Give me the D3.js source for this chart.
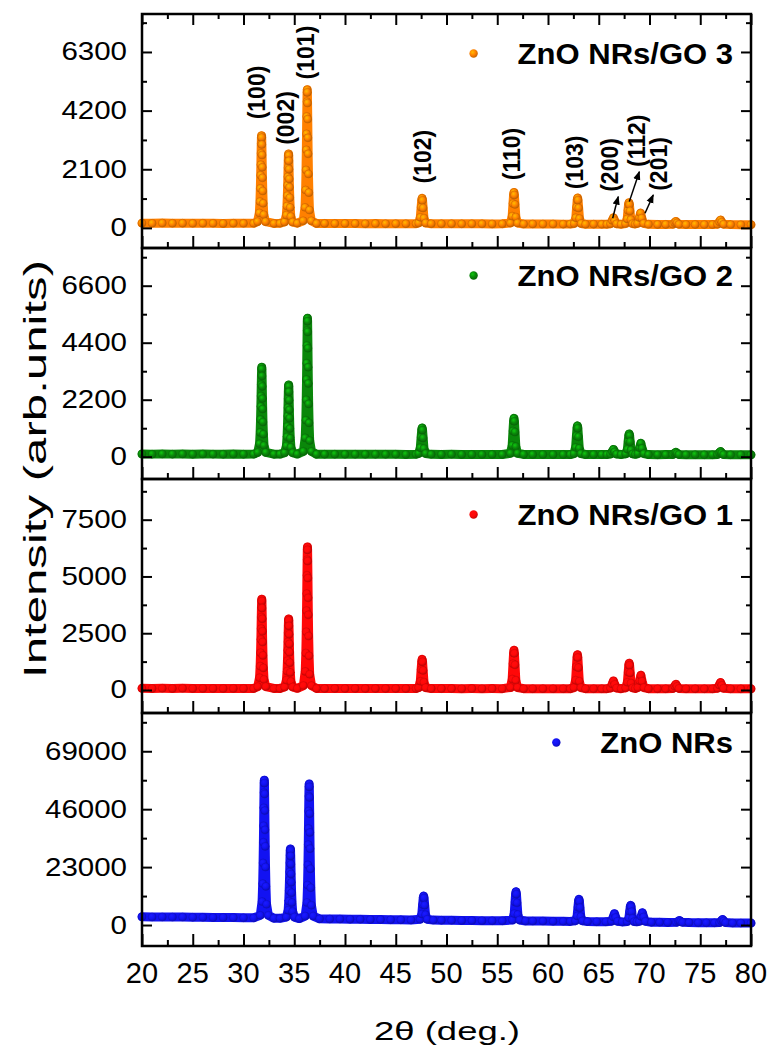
<!DOCTYPE html>
<html>
<head>
<meta charset="utf-8">
<script src="https://cdn.jsdelivr.net/npm/d3@7"></script>
<style>
  body { margin: 0; background: #fff; }
  svg text { font-family: "Liberation Sans", Arial, sans-serif; fill: #000; }
</style>
</head>
<body>
<svg id="chart" width="773" height="1052"></svg>
<script>
// sample names / colours, top panel first
const sampleNames = ['ZnO NRs/GO 3', 'ZnO NRs/GO 2', 'ZnO NRs/GO 1', 'ZnO NRs'];
const sampleColors = ['#ff8000', '#0a870a', '#ff0808', '#1212f2'];

// y axis of each panel: label step and visible range
const yTickSteps = [2100, 2200, 2500, 23000];
const yDomains = [[-720, 7660], [-860, 8055], [-1013, 9292], [-8330, 84190]];
const xTicks = [20, 25, 30, 35, 40, 45, 50, 55, 60, 65, 70, 75, 80];

// [2theta, counts]
const go3 = [
  [20,170],[21,165],[22,172],[23,165],[24,168],[25,162],[26,168],[27,165],[28,160],[29,166],[30,162],[31,165],
  // (100)
  [31.38,223],[31.56,537],[31.62,945],[31.66,1416],[31.69,1887],[31.71,2264],[31.73,2672],[31.75,3017],[31.765,3237],[31.78,3300],
  [31.795,3237],[31.81,2986],[31.83,2609],[31.85,2170],[31.87,1793],[31.90,1322],[31.94,882],[32.00,474],[32.18,223],
  [33.0,160],[33.6,165],
  // (002)
  [34.04,210],[34.22,459],[34.28,783],[34.32,1156],[34.35,1530],[34.37,1828],[34.39,2152],[34.41,2426],[34.425,2600],[34.44,2650],
  [34.455,2600],[34.47,2401],[34.49,2102],[34.51,1754],[34.53,1455],[34.56,1081],[34.60,733],[34.66,409],[34.84,210],
  [35.3,168],
  // (101)
  [35.88,256],[36.06,735],[36.12,1358],[36.16,2076],[36.19,2795],[36.21,3369],[36.23,3992],[36.25,4519],[36.265,4854],[36.28,4950],
  [36.295,4854],[36.31,4471],[36.33,3896],[36.35,3226],[36.37,2651],[36.40,1932],[36.44,1262],[36.50,639],[36.68,256],
  [37.2,158],[38,160],[39,155],[40,158],[41,155],[42,150],[43,155],[44,150],[45,152],[46,150],[47,152],
  // (102)
  [47.25,177],[47.42,378],[47.50,742],[47.56,996],[47.60,1060],[47.64,987],[47.70,714],[47.78,350],[47.95,177],
  [48.5,150],[49.5,148],[50.5,150],[51.5,145],[52.5,148],[53.5,145],[54.5,142],[55.5,145],
  // (110)
  [56.30,174],[56.47,423],[56.55,875],[56.61,1191],[56.65,1270],[56.69,1180],[56.75,841],[56.83,389],[57.00,174],
  [57.6,140],[58.5,142],[59.5,138],[60.5,140],[61.5,135],[62.2,138],
  // (103)
  [62.57,158],[62.74,365],[62.82,741],[62.88,1004],[62.92,1070],[62.96,995],[63.02,713],[63.10,337],[63.27,158],
  [63.7,132],[64.5,135],[65.3,130],[65.8,132],
  // (200)
  [66.15,148],[66.33,268],[66.45,360],[66.57,257],[66.75,148],
  [67.2,130],
  // (112)
  [67.63,153],[67.80,323],[67.88,631],[67.94,846],[67.98,900],[68.02,838],[68.08,607],[68.16,299],[68.33,153],
  [68.58,140],
  // (201)
  [68.82,162],[69.00,370],[69.12,530],[69.24,350],[69.42,162],
  [69.9,128],[70.8,125],[71.6,125],
  [72.3,129],[72.48,186],[72.6,230],[72.72,181],[72.9,129],
  [73.6,120],[74.5,122],[75.4,118],[76.2,120],
  [76.7,133],[76.88,216],[77.0,280],[77.12,208],[77.3,133],
  [78,118],[79,115],[80,115]
];

const go2 = [
  [20,105],[21,100],[22,106],[23,100],[24,104],[25,98],[26,103],[27,100],[28,97],[29,102],[30,98],[31,100],
  [31.40,167],[31.58,502],[31.64,938],[31.68,1440],[31.71,1943],[31.73,2345],[31.75,2780],[31.77,3149],[31.785,3383],[31.80,3450],
  [31.815,3383],[31.83,3115],[31.85,2713],[31.87,2244],[31.89,1842],[31.92,1340],[31.96,871],[32.02,435],[32.20,167],
  [33.0,98],[33.6,100],
  [34.05,153],[34.23,420],[34.29,768],[34.33,1168],[34.36,1569],[34.38,1889],[34.40,2236],[34.42,2530],[34.435,2717],[34.45,2770],
  [34.465,2717],[34.48,2503],[34.50,2183],[34.52,1809],[34.54,1488],[34.57,1088],[34.61,714],[34.67,367],[34.85,153],
  [35.3,102],
  [35.90,205],[36.08,729],[36.14,1410],[36.18,2196],[36.21,2982],[36.23,3611],[36.25,4292],[36.27,4868],[36.285,5235],[36.30,5340],
  [36.315,5235],[36.33,4816],[36.35,4187],[36.37,3454],[36.39,2825],[36.42,2039],[36.46,1305],[36.52,624],[36.70,205],
  [37.2,97],[38,95],[39,98],[40,94],[41,96],[42,92],[43,95],[44,92],[45,94],[46,90],[47,93],
  [47.25,125],[47.42,349],[47.50,755],[47.56,1039],[47.60,1110],[47.64,1029],[47.70,724],[47.78,318],[47.95,125],
  [48.5,92],[49.5,90],[50.5,92],[51.5,88],[52.5,90],[53.5,87],[54.5,90],[55.5,88],
  [56.30,132],[56.47,438],[56.55,994],[56.61,1383],[56.65,1480],[56.69,1369],[56.75,952],[56.83,396],[57.00,132],
  [57.6,88],[58.5,86],[59.5,88],[60.5,85],[61.5,86],[62.2,84],
  [62.55,118],[62.72,361],[62.80,803],[62.86,1113],[62.90,1190],[62.94,1102],[63.00,770],[63.08,328],[63.25,118],
  [63.7,84],[64.5,85],[65.3,82],[65.8,84],
  [66.15,101],[66.33,202],[66.45,280],[66.57,192],[66.75,101],
  [67.2,84],
  [67.65,109],[67.82,284],[67.90,602],[67.96,824],[68.00,880],[68.04,816],[68.10,578],[68.18,260],[68.35,109],
  [68.6,92],
  [68.85,120],[69.03,346],[69.15,520],[69.27,324],[69.45,120],
  [69.9,82],[70.8,80],[71.6,81],
  [72.3,87],[72.48,134],[72.6,170],[72.72,130],[72.9,87],
  [73.6,78],[74.5,80],[75.4,77],[76.2,78],
  [76.7,85],[76.88,150],[77.0,200],[77.12,144],[77.3,85],
  [78,76],[79,75],[80,74]
];

const go1 = [
  [20,72],[21,70],[22,74],[23,69],[24,72],[25,68],[26,71],[27,70],[28,67],[29,70],[30,68],[31,70],
  [31.40,149],[31.58,542],[31.64,1053],[31.68,1642],[31.71,2232],[31.73,2703],[31.75,3214],[31.77,3646],[31.785,3921],[31.80,4000],
  [31.815,3921],[31.83,3607],[31.85,3135],[31.87,2585],[31.89,2114],[31.92,1524],[31.96,974],[32.02,463],[32.20,149],
  [33.0,68],[33.6,70],
  [34.05,131],[34.23,437],[34.29,835],[34.33,1294],[34.36,1753],[34.38,2120],[34.40,2518],[34.42,2855],[34.435,3069],[34.45,3130],
  [34.465,3069],[34.48,2824],[34.50,2457],[34.52,2028],[34.54,1661],[34.57,1202],[34.61,774],[34.67,376],[34.85,131],
  [35.3,72],
  [35.90,195],[36.08,818],[36.14,1628],[36.18,2562],[36.21,3497],[36.23,4244],[36.25,5054],[36.27,5739],[36.285,6175],[36.30,6300],
  [36.315,6175],[36.33,5677],[36.35,4929],[36.37,4057],[36.39,3310],[36.42,2375],[36.46,1503],[36.52,693],[36.70,195],
  [37.2,68],[38,66],[39,68],[40,65],[41,67],[42,64],[43,66],[44,63],[45,65],[46,62],[47,64],
  [47.25,104],[47.42,386],[47.50,900],[47.56,1260],[47.60,1350],[47.64,1247],[47.70,862],[47.78,348],[47.95,104],
  [48.5,63],[49.5,61],[50.5,63],[51.5,60],[52.5,62],[53.5,59],[54.5,61],[55.5,60],
  [56.30,111],[56.47,483],[56.55,1159],[56.61,1632],[56.65,1750],[56.69,1615],[56.75,1108],[56.83,432],[57.00,111],
  [57.6,60],[58.5,58],[59.5,60],[60.5,57],[61.5,59],[62.2,58],
  [62.55,105],[62.72,433],[62.80,1029],[62.86,1446],[62.90,1550],[62.94,1431],[63.00,984],[63.08,388],[63.25,105],
  [63.7,58],[64.5,59],[65.3,57],[65.8,58],
  [66.15,87],[66.33,264],[66.45,400],[66.57,247],[66.75,87],
  [67.2,58],
  [67.65,94],[67.82,340],[67.90,788],[67.96,1102],[68.00,1180],[68.04,1090],[68.10,754],[68.18,306],[68.35,94],
  [68.6,70],
  [68.85,107],[69.03,414],[69.15,650],[69.27,385],[69.45,107],
  [69.9,56],[70.8,55],[71.6,56],
  [72.3,71],[72.48,172],[72.6,250],[72.72,162],[72.9,71],
  [73.6,54],[74.5,55],[75.4,53],[76.2,54],
  [76.7,77],[76.88,220],[77.0,330],[77.12,206],[77.3,77],
  [78,52],[79,51],[80,50]
];

const znoNRs = [
  [20,3250],[21,3200],[22,3210],[23,3150],[24,3160],[25,3100],[26,3060],[27,3000],[28,3010],[29,2950],[30,2900],[31,2860],
  [31.65,3845],[31.83,9320],[31.89,16438],[31.93,24650],[31.96,32863],[31.98,39433],[32.00,46550],[32.02,52573],[32.035,56405],[32.05,57500],
  [32.065,56405],[32.08,52025],[32.10,45455],[32.12,37790],[32.14,31220],[32.17,23008],[32.21,15343],[32.27,8225],[32.45,3845],
  [33.0,2700],[33.6,2650],
  [34.22,3152],[34.40,5912],[34.46,9500],[34.50,13640],[34.53,17780],[34.55,21092],[34.57,24680],[34.59,27716],[34.605,29648],[34.62,30200],
  [34.635,29648],[34.65,27440],[34.67,24128],[34.69,20264],[34.71,16952],[34.74,12812],[34.78,8948],[34.84,5360],[35.02,3152],
  [35.5,2550],
  [36.07,3570],[36.25,8920],[36.31,15875],[36.35,23900],[36.38,31925],[36.40,38345],[36.42,45300],[36.44,51185],[36.455,54930],[36.47,56000],
  [36.485,54930],[36.50,50650],[36.52,44230],[36.54,36740],[36.56,30320],[36.59,22295],[36.63,14805],[36.69,7850],[36.87,3570],
  [37.5,2450],[38.5,2400],[39.5,2350],[40.5,2300],[41.5,2250],[42.5,2200],[43.5,2150],[44.5,2100],[45.5,2050],[46.5,2000],
  [47.40,2285],[47.57,4375],[47.65,8175],[47.71,10835],[47.75,11500],[47.79,10740],[47.85,7890],[47.93,4090],[48.10,2285],
  [48.7,1950],[49.5,1900],[50.5,1850],[51.5,1800],[52.5,1780],[53.5,1740],[54.5,1700],[55.5,1680],
  [56.50,1997],[56.67,4538],[56.75,9158],[56.81,12392],[56.85,13200],[56.89,12276],[56.95,8811],[57.03,4191],[57.20,1997],
  [57.8,1620],[58.5,1580],[59.5,1550],[60.5,1500],[61.5,1460],[62.2,1440],
  [62.70,1664],[62.87,3600],[62.95,7120],[63.01,9584],[63.05,10200],[63.09,9496],[63.15,6856],[63.23,3336],[63.40,1664],
  [63.9,1380],[64.8,1330],[65.7,1300],
  [66.25,1510],[66.43,3200],[66.55,4500],[66.67,3038],[66.85,1510],
  [67.3,1230],
  [67.80,1398],[67.97,2850],[68.05,5490],[68.11,7338],[68.15,7800],[68.19,7272],[68.25,5292],[68.33,2652],[68.50,1398],
  [68.75,1300],
  [69.00,1450],[69.18,3400],[69.30,4900],[69.42,3213],[69.60,1450],
  [70.2,1120],[71.0,1080],[71.8,1050],
  [72.65,1064],[72.83,1480],[72.95,1800],[73.07,1440],[73.25,1064],
  [73.9,980],[74.8,950],[75.6,920],[76.4,880],
  [76.90,958],[77.08,1660],[77.2,2200],[77.32,1593],[77.5,958],
  [78.2,820],[79,790],[80,760]
];

// Miller indices written over the top pattern
const planeLabels = ['(100)', '(002)', '(101)', '(102)', '(110)', '(103)', '(200)', '(112)', '(201)'];
const planeTheta = [31.30, 34.16, 36.16, 47.71, 56.42, 62.66, 66.11, 68.80, 70.97];
const planeCounts = [4848, 3935, 6279, 2551, 2647, 2343, 2254, 3123, 2290];
// arrows from the small peaks up to their labels
const arrowFrom = [[66.37, 347], [68.01, 941], [69.56, 524]];
const arrowTo = [[66.92, 1120], [69.0, 2014], [70.37, 1180]];

const series = [go3, go2, go1, znoNRs];

// layout
const panelEdges = [14, 248, 479, 713, 946];
const legendBaseline = [50, 38, 46, 40];
const svg = d3.select('#chart');
const x = d3.scaleLinear().domain([20, 80]).range([142, 751]);

const defs = svg.append('defs');
defs.append('marker')
  .attr('id', 'arrowhead')
  .attr('viewBox', '0 0 10 10')
  .attr('refX', 9).attr('refY', 5)
  .attr('markerWidth', 6).attr('markerHeight', 6)
  .attr('orient', 'auto')
  .append('path').attr('d', 'M0,1 L10,5 L0,9 Z').attr('fill', '#000');

// sphere-like symbol fill, like the Origin ball markers
sampleColors.forEach((c, i) => {
  const grad = defs.append('radialGradient')
    .attr('id', `ball${i}`)
    .attr('cx', '38%').attr('cy', '35%').attr('r', '65%');
  grad.append('stop').attr('offset', '0%').attr('stop-color', d3.color(c).brighter(1.1));
  grad.append('stop').attr('offset', '55%').attr('stop-color', c);
  grad.append('stop').attr('offset', '100%').attr('stop-color', d3.color(c).darker(0.7));
});

const xMajor = xTicks;
const xMinor = d3.range(22.5, 80, 5);

function drawTicks(g, axis, values, size) {
  g.call(axis.tickValues(values).tickSize(size).tickFormat(''))
    .call(a => a.select('.domain').remove())
    .call(a => a.selectAll('line').attr('stroke', '#000').attr('stroke-width', 2));
}

series.forEach((data, i) => {
  const top = panelEdges[i];
  const bottom = panelEdges[i + 1];
  const y = d3.scaleLinear().domain(yDomains[i]).range([bottom, top]);
  const color = sampleColors[i];
  const step = yTickSteps[i];
  const g = svg.append('g');

  // pattern: thick line for the dense scan + ball symbols on top
  const pts = d3.sort(data, d => d[0]);
  const line = d3.line().x(d => x(d[0])).y(d => y(d[1]));
  g.append('path')
    .attr('d', line(pts))
    .attr('fill', 'none')
    .attr('stroke', color)
    .attr('stroke-width', 9)
    .attr('stroke-linejoin', 'round')
    .attr('stroke-linecap', 'round');
  g.selectAll('circle.pt').data(pts).join('circle')
    .attr('class', 'pt')
    .attr('cx', d => x(d[0]))
    .attr('cy', d => y(d[1]))
    .attr('r', 4)
    .attr('fill', `url(#ball${i})`)
    .attr('stroke', d3.color(color).darker(1))
    .attr('stroke-opacity', 0.55)
    .attr('stroke-width', 0.7);

  // ticks, all pointing into the panel
  const yMajor = d3.range(0, yDomains[i][1], step);
  const yMinor = d3.range(step / 2, yDomains[i][1], step);
  drawTicks(g.append('g').attr('transform', 'translate(142,0)'), d3.axisLeft(y), yMajor, -10);
  drawTicks(g.append('g').attr('transform', 'translate(142,0)'), d3.axisLeft(y), yMinor, -5);
  drawTicks(g.append('g').attr('transform', 'translate(751,0)'), d3.axisRight(y), yMajor, -10);
  drawTicks(g.append('g').attr('transform', 'translate(751,0)'), d3.axisRight(y), yMinor, -5);
  drawTicks(g.append('g').attr('transform', `translate(0,${bottom})`), d3.axisBottom(x), xMajor, -12);
  drawTicks(g.append('g').attr('transform', `translate(0,${bottom})`), d3.axisBottom(x), xMinor, -6);
  if (i === 0) {
    drawTicks(g.append('g').attr('transform', `translate(0,${top})`), d3.axisTop(x), xMajor, -11);
    drawTicks(g.append('g').attr('transform', `translate(0,${top})`), d3.axisTop(x), xMinor, -5);
  }

  g.append('rect')
    .attr('x', 142).attr('y', top)
    .attr('width', 751 - 142).attr('height', bottom - top)
    .attr('fill', 'none').attr('stroke', '#000').attr('stroke-width', 2.5);

  // y tick labels
  g.selectAll('text.ylab').data(yMajor).join('text')
    .attr('class', 'ylab')
    .attr('transform', d => `translate(127,${y(d) + 8.5}) scale(1.18,1)`)
    .attr('text-anchor', 'end')
    .style('font-size', '25px')
    .text(d => d);

  // legend
  const leg = g.append('text')
    .attr('transform', `translate(733,${top + legendBaseline[i]}) scale(1.07,1)`)
    .attr('text-anchor', 'end')
    .style('font-size', '29px')
    .style('font-weight', 'bold')
    .text(sampleNames[i]);
  const w = leg.node().getComputedTextLength() * 1.07;
  g.append('circle')
    .attr('cx', 733 - w - 44)
    .attr('cy', top + legendBaseline[i] - 10.5)
    .attr('r', 4.2)
    .attr('fill', `url(#ball${i})`);

  if (i === 0) {
    g.selectAll('text.plane').data(planeLabels).join('text')
      .attr('class', 'plane')
      .attr('transform', (d, k) => `translate(${x(planeTheta[k])},${y(planeCounts[k])}) rotate(-90)`)
      .attr('text-anchor', 'middle')
      .attr('dominant-baseline', 'central')
      .style('font-size', '23px')
      .style('font-weight', 'bold')
      .text(d => d);
    g.selectAll('line.arrow').data(arrowFrom).join('line')
      .attr('class', 'arrow')
      .attr('x1', d => x(d[0])).attr('y1', d => y(d[1]))
      .attr('x2', (d, k) => x(arrowTo[k][0])).attr('y2', (d, k) => y(arrowTo[k][1]))
      .attr('stroke', '#000').attr('stroke-width', 1.5)
      .attr('marker-end', 'url(#arrowhead)');
  }
});

// x tick labels under the last panel
svg.selectAll('text.xlab').data(xTicks).join('text')
  .attr('class', 'xlab')
  .attr('x', d => x(d))
  .attr('y', 983)
  .attr('text-anchor', 'middle')
  .style('font-size', '29px')
  .text(d => d);

svg.append('text')
  .attr('x', 447).attr('y', 1040)
  .attr('text-anchor', 'middle')
  .attr('textLength', 146)
  .attr('lengthAdjust', 'spacingAndGlyphs')
  .style('font-size', '26px')
  .text('2θ (deg.)');

svg.append('text')
  .attr('transform', 'translate(46,469) rotate(-90)')
  .attr('text-anchor', 'middle')
  .attr('textLength', 418)
  .attr('lengthAdjust', 'spacingAndGlyphs')
  .style('font-size', '31px')
  .text('Intensity (arb.units)');
</script>
</body>
</html>
